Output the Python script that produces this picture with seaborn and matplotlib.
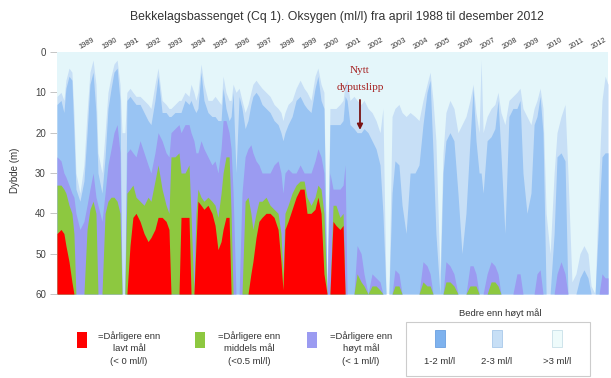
import matplotlib
matplotlib.use("Agg")
import matplotlib.pyplot as plt
import seaborn as sns
import pandas as pd
from matplotlib.patches import Rectangle

# ---------------- data (depth in m of the top of each oxygen class) ----------------
years = [1988.25, 1988.43, 1988.56, 1988.65, 1988.79, 1988.92, 1989.01, 1989.10, 1989.28, 1989.46,
         1989.60, 1989.73, 1989.87, 1990.00, 1990.09, 1990.27, 1990.41, 1990.54, 1990.68, 1990.81,
         1990.95, 1991.08, 1991.17, 1991.30, 1991.39, 1991.53, 1991.66, 1991.80, 1991.98, 1992.16,
         1992.34, 1992.47, 1992.65, 1992.79, 1992.97, 1993.15, 1993.28, 1993.37, 1993.55, 1993.73,
         1993.82, 1994.00, 1994.18, 1994.27, 1994.40, 1994.49, 1994.58, 1994.72, 1994.85, 1995.03,
         1995.21, 1995.35, 1995.48, 1995.62, 1995.71, 1995.84, 1995.98, 1996.07, 1996.16, 1996.29,
         1996.43, 1996.56, 1996.70, 1996.83, 1996.96, 1997.05, 1997.19, 1997.32, 1997.46, 1997.64,
         1997.82, 1998.00, 1998.18, 1998.31, 1998.40, 1998.49, 1998.63, 1998.81, 1998.99, 1999.17,
         1999.35, 1999.48, 1999.66, 1999.84, 1999.97, 2000.11, 2000.24, 2000.38, 2000.51, 2000.65,
         2000.78, 2000.96, 2001.10, 2001.19, 2001.28, 2001.41, 2001.59, 2001.73, 2001.91, 2002.04,
         2002.22, 2002.40, 2002.58, 2002.76, 2002.89, 2003.03, 2003.16, 2003.30, 2003.43, 2003.61,
         2003.75, 2003.93, 2004.11, 2004.33, 2004.51, 2004.69, 2004.87, 2005.01, 2005.14, 2005.27,
         2005.45, 2005.59, 2005.72, 2005.90, 2006.08, 2006.26, 2006.44, 2006.62, 2006.80, 2006.94,
         2007.07, 2007.21, 2007.30, 2007.39, 2007.57, 2007.75, 2007.92, 2008.06, 2008.19, 2008.37,
         2008.55, 2008.73, 2008.91, 2009.05, 2009.18, 2009.36, 2009.54, 2009.68, 2009.81, 2009.95,
         2010.08, 2010.22, 2010.40, 2010.58, 2010.71, 2010.89, 2011.07, 2011.20, 2011.38, 2011.56,
         2011.74, 2011.92, 2012.10, 2012.24, 2012.42, 2012.60, 2012.73, 2012.87, 2013.00]

# top of the 2-3 ml/l zone
top_2_3 = [11, 10, 12, 7, 4, 5, 15, 30, 35, 28,
           15, 5, 2, 8, 25, 30, 20, 10, 6, 3,
           2, 8, 20, 20, 10, 9, 10, 11, 11, 12,
           13, 14, 8, 4, 12, 13, 14, 14, 13, 12,
           12, 10, 11, 8, 10, 12, 10, 3, 8, 12,
           12, 11, 12, 13, 6, 10, 12, 12, 8, 10,
           9, 12, 15, 13, 10, 8, 7, 8, 9, 10,
           11, 13, 14, 15, 17, 15, 13, 12, 9, 7,
           9, 10, 12, 6, 4, 8, 10, 60, 14, 14,
           14, 13, 12, 8, 7, 12, 11, 12, 13, 12,
           14, 15, 17, 20, 14, 60, 60, 16, 14, 13,
           15, 16, 15, 16, 17, 12, 8, 5, 12, 22,
           55, 25, 15, 12, 14, 20, 18, 16, 12, 8,
           15, 20, 2, 20, 16, 14, 13, 10, 15, 18,
           12, 11, 10, 9, 14, 16, 18, 14, 12, 9,
           14, 40, 50, 30, 20, 16, 13, 30, 57, 55,
           50, 48, 50, 58, 60, 30, 12, 6, 8]

# top of the 1-2 ml/l zone
top_1_2 = [13, 12, 15, 9, 6, 7, 20, 34, 37, 32,
           20, 8, 5, 15, 30, 35, 26, 14, 9, 5,
           4, 12, 60, 60, 12, 11, 12, 13, 13, 15,
           17, 18, 12, 6, 15, 15, 16, 16, 15, 15,
           15, 12, 13, 12, 14, 15, 14, 5, 12, 15,
           16, 16, 17, 17, 9, 14, 17, 16, 10, 30,
           11, 14, 19, 17, 13, 11, 10, 11, 13, 14,
           15, 17, 18, 20, 22, 20, 18, 16, 12, 11,
           13, 14, 15, 9, 6, 12, 14, 60, 18, 18,
           18, 18, 17, 11, 12, 18, 19, 20, 20, 19,
           20, 22, 24, 28, 40, 60, 60, 35, 27, 28,
           38, 45, 30, 30, 28, 18, 10, 7, 25, 45,
           60, 30, 22, 20, 22, 35, 50, 40, 22, 9,
           22, 30, 30, 35, 22, 21, 19, 12, 25, 45,
           16, 14, 14, 12, 30, 40, 35, 18, 16, 11,
           20, 60, 60, 45, 26, 25, 27, 60, 60, 60,
           56, 54, 56, 60, 60, 40, 26, 25, 25]

# top of the < 1 ml/l zone (purple)
top_lt1 = [26, 27, 30, 31, 33, 35, 36, 40, 44, 42,
           38, 34, 30, 36, 38, 42, 35, 28, 24, 20,
           18, 25, 60, 60, 25, 24, 25, 26, 22, 25,
           28, 30, 25, 20, 22, 25, 26, 20, 19, 18,
           20, 18, 18, 20, 22, 25, 25, 22, 24, 26,
           28, 27, 30, 24, 17, 17, 20, 24, 35, 60,
           60, 35, 26, 24, 23, 25, 27, 28, 30, 30,
           30, 28, 27, 30, 35, 30, 29, 30, 30, 28,
           30, 30, 30, 27, 24, 26, 30, 60, 30, 34,
           34, 34, 33, 28, 60, 60, 60, 48, 50, 55,
           60, 55, 56, 57, 60, 60, 60, 60, 54, 55,
           60, 60, 60, 60, 60, 52, 53, 55, 60, 60,
           60, 60, 52, 53, 55, 60, 60, 60, 53, 53,
           55, 60, 60, 60, 55, 52, 53, 55, 60, 60,
           60, 60, 55, 55, 60, 60, 60, 60, 55, 54,
           60, 60, 60, 60, 55, 52, 55, 60, 60, 60,
           60, 60, 60, 60, 60, 60, 55, 56, 56]

# top of the < 0.5 ml/l zone (green)
top_lt05 = [33, 33, 34, 35, 38, 40, 45, 60, 60, 60,
            44, 39, 37, 40, 60, 60, 40, 37, 36, 36,
            37, 40, 60, 60, 35, 34, 33, 36, 37, 38,
            36, 37, 32, 28, 34, 38, 40, 26, 26, 25,
            30, 30, 28, 40, 60, 40, 34, 36, 37, 36,
            37, 38, 41, 35, 30, 26, 26, 40, 60, 60,
            60, 60, 37, 36, 40, 44, 40, 37, 37, 36,
            38, 39, 40, 45, 55, 40, 38, 35, 33, 32,
            32, 36, 38, 36, 33, 34, 40, 60, 60, 38,
            38, 41, 40, 60, 60, 60, 60, 55, 57, 58,
            60, 58, 58, 59, 60, 60, 60, 60, 58, 58,
            60, 60, 60, 60, 60, 57, 58, 58, 60, 60,
            60, 60, 57, 57, 58, 60, 60, 60, 58, 58,
            58, 60, 60, 60, 60, 57, 57, 58, 60, 60,
            60, 60, 60, 60, 60, 60, 60, 60, 60, 60,
            60, 60, 60, 60, 60, 60, 60, 60, 60, 60,
            60, 60, 60, 60, 60, 60, 60, 60, 60]

# top of the < 0 ml/l zone (red)
top_lt0 = [45, 44, 45, 48, 52, 57, 60, 60, 60, 60,
           60, 60, 60, 60, 60, 60, 60, 60, 60, 60,
           60, 60, 60, 60, 60, 48, 41, 40, 42, 45,
           47, 46, 44, 41, 41, 42, 44, 60, 60, 60,
           41, 41, 41, 60, 60, 48, 37, 38, 39, 38,
           40, 43, 49, 47, 44, 41, 41, 60, 60, 60,
           60, 60, 60, 60, 55, 52, 46, 42, 41, 40,
           40, 41, 44, 52, 59, 44, 42, 39, 36, 34,
           34, 40, 40, 39, 36, 40, 55, 60, 60, 42,
           43, 44, 43, 60, 60, 60, 60, 60, 60, 60,
           60, 60, 60, 60, 60, 60, 60, 60, 60, 60,
           60, 60, 60, 60, 60, 60, 60, 60, 60, 60,
           60, 60, 60, 60, 60, 60, 60, 60, 60, 60,
           60, 60, 60, 60, 60, 60, 60, 60, 60, 60,
           60, 60, 60, 60, 60, 60, 60, 60, 60, 60,
           60, 60, 60, 60, 60, 60, 60, 60, 60, 60,
           60, 60, 60, 60, 60, 60, 60, 60, 60]

year_labels = list(range(1989, 2013))
depth_ticks = [0, 10, 20, 30, 40, 50, 60]

# ---------------- style ----------------
C_BG = "#E4F6FA"
C_23 = "#C7DFF6"
C_12 = "#99C4F3"
C_LT1 = "#9B9BF1"
C_LT05 = "#8DC840"
C_LT0 = "#FF0000"

sns.set_theme(style="white")
plt.rcParams['font.family'] = ['Liberation Sans', 'DejaVu Sans']

df = pd.DataFrame({"year": years, "z23": top_2_3, "z12": top_1_2,
                   "zlt1": top_lt1, "zlt05": top_lt05, "zlt0": top_lt0})

W, H = 611, 378
fig = plt.figure(figsize=(W / 100, H / 100), dpi=100)
fig.patch.set_facecolor("white")
ax = fig.add_axes([57 / W, 1 - 294 / H, 551 / W, 242 / H])
ax.set_facecolor("white")

ax.fill_between(df["year"], 0, 60, color=C_BG, lw=0)
for col, c in [("z23", C_23), ("z12", C_12), ("zlt1", C_LT1), ("zlt05", C_LT05), ("zlt0", C_LT0)]:
    ax.fill_between(df["year"], df[col], 60, color=c, lw=0)

ax.set_xlim(1988.25, 2013.0)
ax.set_ylim(60, 0)
sns.despine(ax=ax, left=True, bottom=True, top=True, right=True)

ax.xaxis.tick_top()
ax.set_xticks([y + 0.6 for y in year_labels])
ax.set_xticklabels([str(y) for y in year_labels], rotation=30, fontsize=5.3, color="#333333")
ax.tick_params(axis="x", top=True, bottom=False, length=0, pad=1)
ax.set_yticks(depth_ticks)
ax.set_yticklabels([str(d) for d in depth_ticks], fontsize=7, color="#444444")
ax.tick_params(axis="y", left=True, length=5, width=0.6, color="#BBBBBB", pad=3)
ax.grid(False)

fig.text(15 / W, 1 - 170 / H, "Dybde (m)", rotation=90, ha="center", va="center",
         fontsize=7, color="#333333")
fig.text(337 / W, 1 - 17 / H,
         "Bekkelagsbassenget (Cq 1). Oksygen (ml/l) fra april 1988 til desember 2012",
         ha="center", va="center", fontsize=8.8, color="#333333")

# annotation
x_ann = 2001.86
ax.annotate("", xy=(x_ann, 20.0), xytext=(x_ann, 11.2),
            arrowprops=dict(arrowstyle="-|>", color="#7A1212", lw=1.3, mutation_scale=8))
ax.text(x_ann, 4.6, "Nytt", ha="center", va="center", fontsize=8,
        family=["Liberation Serif", "DejaVu Serif"], color="#A52020")
ax.text(x_ann, 8.7, "dyputslipp", ha="center", va="center", fontsize=8,
        family=["Liberation Serif", "DejaVu Serif"], color="#A52020")

# legend
def rect(x0, y0, x1, y1, fc, ec="none", lw=0.0):
    fig.patches.append(Rectangle((x0 / W, 1 - y1 / H), (x1 - x0) / W, (y1 - y0) / H,
                                 transform=fig.transFigure, facecolor=fc, edgecolor=ec,
                                 linewidth=lw, figure=fig))

leg_fs = 6.8
items = [(77, C_LT0, 129, ["=Dårligere enn", "lavt mål", "(< 0 ml/l)"]),
         (195, C_LT05, 249, ["=Dårligere enn", "middels mål", "(<0.5 ml/l)"]),
         (307, C_LT1, 361, ["=Dårligere enn", "høyt mål", "(< 1 ml/l)"])]
for px, c, tx, lines in items:
    rect(px, 332, px + 10, 348, c)
    for ly, t in zip([336, 348.5, 361.5], lines):
        fig.text(tx / W, 1 - ly / H, t, ha="center", va="center", fontsize=leg_fs, color="#333333")

rect(406, 322, 590, 376, "none", ec="#CCCCCC", lw=0.8)
fig.text(500 / W, 1 - 313 / H, "Bedre enn høyt mål", ha="center", va="center",
         fontsize=leg_fs, color="#333333")
for cx, c, ec, t in [(440, "#7EB2EE", "#6A9FE0", "1-2 ml/l"),
                     (497, C_23, "#A8C8EA", "2-3 ml/l"),
                     (557, "#EEFBFB", "#C8E0E8", ">3 ml/l")]:
    rect(cx - 5, 330, cx + 5, 347, c, ec=ec, lw=0.6)
    fig.text(cx / W, 1 - 362 / H, t, ha="center", va="center", fontsize=leg_fs, color="#333333")

fig.savefig("out.png", dpi=100, facecolor="white")
